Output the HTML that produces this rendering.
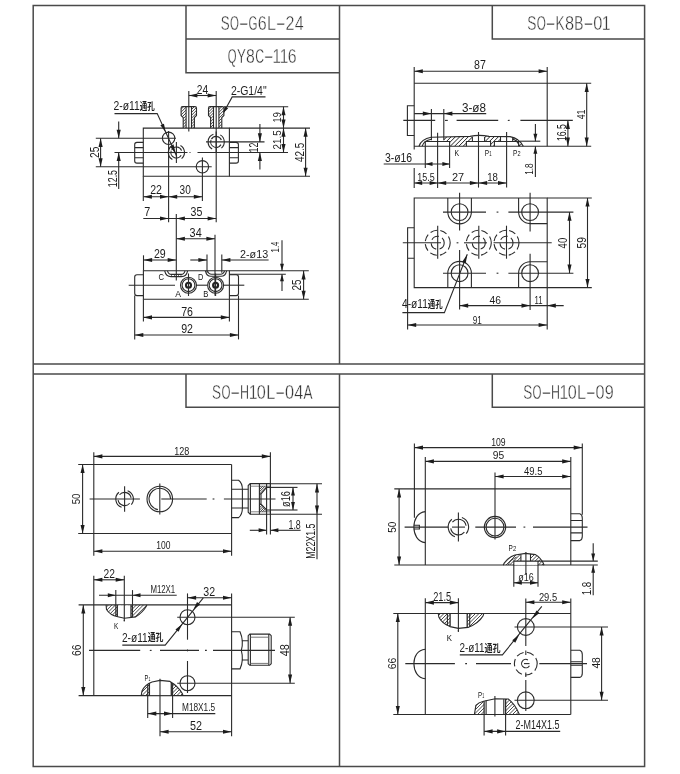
<!DOCTYPE html>
<html><head><meta charset="utf-8"><title>drawing</title>
<style>
html,body{margin:0;padding:0;background:#fff}
svg{display:block;will-change:transform;opacity:.999}
svg path,svg circle{fill:none;stroke:#2b2b2b;stroke-width:1.1}
svg path.a{fill:#1c1c1c;stroke:none}
svg text{font-family:"Liberation Sans","Noto Sans CJK SC",sans-serif;fill:#1c1c1c}
svg text.h{fill:#333;stroke:#fff;stroke-width:.4px}
svg text.s{fill:#111}
svg .c{fill:#1a1a1a;font-weight:bold}
</style></head><body>
<svg width="680" height="774" viewBox="0 0 680 774">
<path d="M33.2 5.4H644.6V766.5H33.2Z" style="stroke:#4a4a4a;stroke-width:1.5"/>
<path d="M33.2 364.1H644.6" style="stroke:#4a4a4a;stroke-width:1.5"/>
<path d="M33.2 374.1H644.6" style="stroke:#4a4a4a;stroke-width:1.5"/>
<path d="M339.5 5.4V364.1" style="stroke:#4a4a4a;stroke-width:1.5"/>
<path d="M339.5 374.1V766.5" style="stroke:#4a4a4a;stroke-width:1.5"/>
<path d="M186 5.4V72.8H339.5M186 39.1H339.5" style="stroke:#4a4a4a;stroke-width:1.5"/>
<path d="M492.3 5.4V38.9H644.6" style="stroke:#4a4a4a;stroke-width:1.5"/>
<path d="M186 374.1V407.2H339.5" style="stroke:#4a4a4a;stroke-width:1.5"/>
<path d="M492.3 374.1V407.2H644.6" style="stroke:#4a4a4a;stroke-width:1.5"/>
<text class="h" y="29.7" font-size="21" text-anchor="middle"><tspan x="225.32" textLength="8.93" lengthAdjust="spacingAndGlyphs">S</tspan><tspan x="234.55" textLength="8.93" lengthAdjust="spacingAndGlyphs">O</tspan><tspan x="243.78" textLength="10.64" lengthAdjust="spacingAndGlyphs">-</tspan><tspan x="253.02" textLength="8.93" lengthAdjust="spacingAndGlyphs">G</tspan><tspan x="262.25" textLength="8.93" lengthAdjust="spacingAndGlyphs">6</tspan><tspan x="271.48" textLength="8.93" lengthAdjust="spacingAndGlyphs">L</tspan><tspan x="280.72" textLength="10.64" lengthAdjust="spacingAndGlyphs">-</tspan><tspan x="289.95" textLength="8.93" lengthAdjust="spacingAndGlyphs">2</tspan><tspan x="299.18" textLength="8.93" lengthAdjust="spacingAndGlyphs">4</tspan></text>
<text class="h" y="63.3" font-size="21" text-anchor="middle"><tspan x="232.25" textLength="8.81" lengthAdjust="spacingAndGlyphs">Q</tspan><tspan x="241.36" textLength="8.81" lengthAdjust="spacingAndGlyphs">Y</tspan><tspan x="250.47" textLength="8.81" lengthAdjust="spacingAndGlyphs">8</tspan><tspan x="259.58" textLength="8.81" lengthAdjust="spacingAndGlyphs">C</tspan><tspan x="268.68" textLength="10.49" lengthAdjust="spacingAndGlyphs">-</tspan><tspan x="276.85" textLength="8.51" lengthAdjust="spacingAndGlyphs">1</tspan><tspan x="284.08" textLength="8.51" lengthAdjust="spacingAndGlyphs">1</tspan><tspan x="292.25" textLength="8.81" lengthAdjust="spacingAndGlyphs">6</tspan></text>
<text class="h" y="29.7" font-size="21" text-anchor="middle"><tspan x="531.81" textLength="9.11" lengthAdjust="spacingAndGlyphs">S</tspan><tspan x="541.22" textLength="9.11" lengthAdjust="spacingAndGlyphs">O</tspan><tspan x="550.64" textLength="10.85" lengthAdjust="spacingAndGlyphs">-</tspan><tspan x="560.06" textLength="9.11" lengthAdjust="spacingAndGlyphs">K</tspan><tspan x="569.47" textLength="9.11" lengthAdjust="spacingAndGlyphs">8</tspan><tspan x="578.89" textLength="9.11" lengthAdjust="spacingAndGlyphs">B</tspan><tspan x="588.3" textLength="10.85" lengthAdjust="spacingAndGlyphs">-</tspan><tspan x="597.72" textLength="9.11" lengthAdjust="spacingAndGlyphs">0</tspan><tspan x="606.16" textLength="8.8" lengthAdjust="spacingAndGlyphs">1</tspan></text>
<text class="h" y="398.9" font-size="21" text-anchor="middle"><tspan x="216.57" textLength="9.04" lengthAdjust="spacingAndGlyphs">S</tspan><tspan x="225.92" textLength="9.04" lengthAdjust="spacingAndGlyphs">O</tspan><tspan x="235.27" textLength="10.77" lengthAdjust="spacingAndGlyphs">-</tspan><tspan x="244.62" textLength="9.04" lengthAdjust="spacingAndGlyphs">H</tspan><tspan x="253" textLength="8.74" lengthAdjust="spacingAndGlyphs">1</tspan><tspan x="261.38" textLength="9.04" lengthAdjust="spacingAndGlyphs">0</tspan><tspan x="270.73" textLength="9.04" lengthAdjust="spacingAndGlyphs">L</tspan><tspan x="280.08" textLength="10.77" lengthAdjust="spacingAndGlyphs">-</tspan><tspan x="289.43" textLength="9.04" lengthAdjust="spacingAndGlyphs">0</tspan><tspan x="298.78" textLength="9.04" lengthAdjust="spacingAndGlyphs">4</tspan><tspan x="308.13" textLength="9.04" lengthAdjust="spacingAndGlyphs">A</tspan></text>
<text class="h" y="398.9" font-size="21" text-anchor="middle"><tspan x="527.65" textLength="8.99" lengthAdjust="spacingAndGlyphs">S</tspan><tspan x="536.94" textLength="8.99" lengthAdjust="spacingAndGlyphs">O</tspan><tspan x="546.23" textLength="10.71" lengthAdjust="spacingAndGlyphs">-</tspan><tspan x="555.52" textLength="8.99" lengthAdjust="spacingAndGlyphs">H</tspan><tspan x="563.85" textLength="8.69" lengthAdjust="spacingAndGlyphs">1</tspan><tspan x="572.19" textLength="8.99" lengthAdjust="spacingAndGlyphs">0</tspan><tspan x="581.48" textLength="8.99" lengthAdjust="spacingAndGlyphs">L</tspan><tspan x="590.77" textLength="10.71" lengthAdjust="spacingAndGlyphs">-</tspan><tspan x="600.06" textLength="8.99" lengthAdjust="spacingAndGlyphs">0</tspan><tspan x="609.35" textLength="8.99" lengthAdjust="spacingAndGlyphs">9</tspan></text>
<path d="M143.3 128.1H229.4V176.3H143.3Z"/>
<path d="M143.3 142.4H137Q134.7 142.4 134.7 144.6V160.9Q134.7 163.1 137 163.1H143.3M134.7 147.6H143.3M134.7 157.8H143.3"/>
<path d="M229.4 142.4H236Q238.4 142.4 238.4 144.6V160.9Q238.4 163.1 236 163.1H229.4M229.4 147.6H238.4M229.4 157.8H238.4"/>
<path d="M183.2 128.1V117.5L181.1 115.5V108.2Q181.1 106.6 182.6 106.6H195Q196.5 106.6 196.5 108.2V115.5L194.4 117.5V128.1"/>
<path d="M186.1 106.6V128.1"/>
<path d="M191.5 106.6V128.1"/>
<clipPath id="h1"><path d="M183.2 128.1V117.5L181.1 115.5V106.6H186.1V128.1Z"/></clipPath>
<path clip-path="url(#h1)" d="M159.3 128.1L180.8 106.6M162.2 128.1L183.7 106.6M165.1 128.1L186.6 106.6M168 128.1L189.5 106.6M170.9 128.1L192.4 106.6M173.8 128.1L195.3 106.6M176.7 128.1L198.2 106.6M179.6 128.1L201.1 106.6M182.5 128.1L204 106.6M185.4 128.1L206.9 106.6" style="stroke:#333;stroke-width:0.9"/>
<clipPath id="h2"><path d="M194.4 128.1V117.5L196.5 115.5V106.6H191.5V128.1Z"/></clipPath>
<path clip-path="url(#h2)" d="M170 128.1L191.5 106.6M172.9 128.1L194.4 106.6M175.8 128.1L197.3 106.6M178.7 128.1L200.2 106.6M181.6 128.1L203.1 106.6M184.5 128.1L206 106.6M187.4 128.1L208.9 106.6M190.3 128.1L211.8 106.6M193.2 128.1L214.7 106.6M196.1 128.1L217.6 106.6" style="stroke:#333;stroke-width:0.9"/>
<path d="M210.6 128.1V117.5L208.5 115.5V108.2Q208.5 106.6 210 106.6H222.4Q223.9 106.6 223.9 108.2V115.5L221.8 117.5V128.1"/>
<path d="M213.5 106.6V128.1"/>
<path d="M218.9 106.6V128.1"/>
<clipPath id="h3"><path d="M210.6 128.1V117.5L208.5 115.5V106.6H213.5V128.1Z"/></clipPath>
<path clip-path="url(#h3)" d="M186.7 128.1L208.2 106.6M189.6 128.1L211.1 106.6M192.5 128.1L214 106.6M195.4 128.1L216.9 106.6M198.3 128.1L219.8 106.6M201.2 128.1L222.7 106.6M204.1 128.1L225.6 106.6M207 128.1L228.5 106.6M209.9 128.1L231.4 106.6M212.8 128.1L234.3 106.6" style="stroke:#333;stroke-width:0.9"/>
<clipPath id="h4"><path d="M221.8 128.1V117.5L223.9 115.5V106.6H218.9V128.1Z"/></clipPath>
<path clip-path="url(#h4)" d="M197.4 128.1L218.9 106.6M200.3 128.1L221.8 106.6M203.2 128.1L224.7 106.6M206.1 128.1L227.6 106.6M209 128.1L230.5 106.6M211.9 128.1L233.4 106.6M214.8 128.1L236.3 106.6M217.7 128.1L239.2 106.6M220.6 128.1L242.1 106.6M223.5 128.1L245 106.6" style="stroke:#333;stroke-width:0.9"/>
<path d="M188.8 91V131.5"/>
<path d="M216.2 91V222.3"/>
<path d="M188.8 95.5H216.2"/>
<path class="a" d="M188.8 95.5L197.4 93.45L197.4 97.55Z"/>
<path class="a" d="M216.2 95.5L207.6 97.55L207.6 93.45Z"/>
<text class="t" x="196.8" y="93.7" font-size="12.14" textLength="11.4" lengthAdjust="spacingAndGlyphs">24</text>
<text class="t" x="230.9" y="95.2" font-size="12.29" textLength="35.7" lengthAdjust="spacingAndGlyphs">2-G1/4&quot;</text>
<path d="M265.5 96.9H232.2L223.6 112.6"/>
<path class="a" d="M223.4 113L224.73 106.35L228.17 108.18Z"/>
<circle cx="168.6" cy="138.3" r="6.2"/>
<circle cx="202.4" cy="166.8" r="6.2"/>
<path d="M95.8 138.3H176"/>
<path d="M95.8 166.8H211.7"/>
<path d="M114.5 152.5H187.5"/>
<path d="M189.5 152.5H190.5"/>
<path d="M197.5 152.5H288"/>
<path d="M180.45 145.49A8.1 8.1 0 0 1 181.61 158.7"/>
<path d="M172.35 159.51A8.1 8.1 0 0 1 173.63 144.89"/>
<path d="M171.64 149.75A5.5 5.5 0 0 1 181.57 150.62"/>
<path d="M181.16 155.25A5.5 5.5 0 0 1 171.23 150.62"/>
<path d="M176.4 142V163"/>
<path d="M220.25 134.89A8.1 8.1 0 0 1 221.41 148.1"/>
<path d="M212.15 148.91A8.1 8.1 0 0 1 213.43 134.29"/>
<path d="M211.44 139.15A5.5 5.5 0 0 1 221.37 140.02"/>
<path d="M220.96 144.65A5.5 5.5 0 0 1 211.03 140.02"/>
<path d="M216.2 131.4V152.4"/>
<path d="M206 141.9H264.5"/>
<path d="M171 152.5H181.5"/>
<text y="110" font-size="12.14"><tspan x="113.5" textLength="26.3" lengthAdjust="spacingAndGlyphs">2-ø11</tspan><tspan class="c" x="139.8" y="109.79" font-size="10.11" textLength="15" lengthAdjust="spacingAndGlyphs">通孔</tspan></text>
<path d="M114.5 113.6H157.2L176.8 156.5"/>
<path class="a" d="M165.7 132.3L160.4 125.37L163.95 123.76Z"/>
<path class="a" d="M175.6 153.8L170.3 146.87L173.85 145.26Z"/>
<path d="M100.6 138.3V166.8"/>
<path class="a" d="M100.6 138.3L102.65 146.9L98.55 146.9Z"/>
<path class="a" d="M100.6 166.8L98.55 158.2L102.65 158.2Z"/>
<text class="t" transform="translate(98.8 158) rotate(-90)" font-size="12.14" textLength="11.4" lengthAdjust="spacingAndGlyphs">25</text>
<path d="M118.7 121.5V138.3"/>
<path class="a" d="M118.7 138.3L116.65 129.7L120.75 129.7Z"/>
<path d="M118.7 152.5V189"/>
<path class="a" d="M118.7 152.5L120.75 161.1L116.65 161.1Z"/>
<text class="t" transform="translate(116.9 187.2) rotate(-90)" font-size="12.29" textLength="17.2" lengthAdjust="spacingAndGlyphs">12.5</text>
<path d="M224 106.7H288.2"/>
<path d="M229.4 128.1H310"/>
<path d="M229.4 176.3H310"/>
<path d="M283.5 106.7V152.5"/>
<path class="a" d="M283.5 106.7L285.55 115.3L281.45 115.3Z"/>
<path class="a" d="M283.5 128.1L281.45 119.5L285.55 119.5Z"/>
<path class="a" d="M283.5 128.1L285.55 136.7L281.45 136.7Z"/>
<path class="a" d="M283.5 152.5L281.45 143.9L285.55 143.9Z"/>
<text class="t" transform="translate(281 122.4) rotate(-90)" font-size="11.71" textLength="10.2" lengthAdjust="spacingAndGlyphs">19</text>
<text class="t" transform="translate(281 149.4) rotate(-90)" font-size="11.71" textLength="19.1" lengthAdjust="spacingAndGlyphs">21.5</text>
<path d="M305.6 128.1V176.3"/>
<path class="a" d="M305.6 128.1L307.65 136.7L303.55 136.7Z"/>
<path class="a" d="M305.6 176.3L303.55 167.7L307.65 167.7Z"/>
<text class="t" transform="translate(303.8 162) rotate(-90)" font-size="12.14" textLength="19.2" lengthAdjust="spacingAndGlyphs">42.5</text>
<path d="M259.9 124V141.9"/>
<path class="a" d="M259.9 141.9L257.85 133.3L261.95 133.3Z"/>
<path d="M259.9 152.5V169.4"/>
<path class="a" d="M259.9 152.5L261.95 161.1L257.85 161.1Z"/>
<text class="t" transform="translate(258.1 152.4) rotate(-90)" font-size="12" textLength="9.8" lengthAdjust="spacingAndGlyphs">12</text>
<path d="M143.3 176.3V201"/>
<path d="M168.6 131V222.3"/>
<path d="M202.4 157.5V201"/>
<path d="M143.3 196.8H202.4"/>
<path class="a" d="M143.3 196.8L151.9 194.75L151.9 198.85Z"/>
<path class="a" d="M168.6 196.8L160 198.85L160 194.75Z"/>
<path class="a" d="M168.6 196.8L177.2 194.75L177.2 198.85Z"/>
<path class="a" d="M202.4 196.8L193.8 198.85L193.8 194.75Z"/>
<text class="t" x="150.2" y="194.2" font-size="12.29" textLength="11.8" lengthAdjust="spacingAndGlyphs">22</text>
<text class="t" x="179.6" y="194.2" font-size="12.29" textLength="11.2" lengthAdjust="spacingAndGlyphs">30</text>
<path d="M143.3 218.5H216.2"/>
<path class="a" d="M168.6 218.5L160 220.55L160 216.45Z"/>
<path class="a" d="M176.3 218.5L184.9 216.45L184.9 220.55Z"/>
<path class="a" d="M216.2 218.5L207.6 220.55L207.6 216.45Z"/>
<text class="t" x="144.3" y="216.3" font-size="12.14" textLength="6" lengthAdjust="spacingAndGlyphs">7</text>
<text class="t" x="190.6" y="216.3" font-size="12.14" textLength="11.8" lengthAdjust="spacingAndGlyphs">35</text>
<path d="M176.3 214V280.4"/>
<path d="M215 234.7V295.8"/>
<path d="M176.3 238.8H215"/>
<path class="a" d="M176.3 238.8L184.9 236.75L184.9 240.85Z"/>
<path class="a" d="M215 238.8L206.4 240.85L206.4 236.75Z"/>
<text class="t" x="189.6" y="237" font-size="12" textLength="12.1" lengthAdjust="spacingAndGlyphs">34</text>
<path d="M143.4 270.8H229.4V299.3H143.4Z"/>
<path d="M143.4 274.7H137Q134.7 274.7 134.7 277V293.3Q134.7 295.6 137 295.6H143.4"/>
<path d="M229.4 274.7H236.2Q238.5 274.7 238.5 277V293.3Q238.5 295.6 236.2 295.6H229.4"/>
<path d="M128.7 285.2H175"/>
<path d="M196 285.2H207"/>
<path d="M224 285.2H244.3"/>
<path d="M164.7 270.8Q166 276.6 171 276.6H181.5Q186.5 276.6 187.6 270.8M167.5 270.8Q168.5 274.4 171.5 274.4H181Q184 274.4 185 270.8"/>
<path d="M171.5 274.4V276.6M174.5 274.4V276.6M178.5 274.4V276.6M181 274.4V276.6" style="stroke-width:0.7"/>
<path d="M205.4 270.8Q206.5 276.2 211 276.2H221Q225.5 276.2 226.6 270.8M207.5 270.8Q208.5 274.2 211.5 274.2H220.5Q223.5 274.2 224.5 270.8"/>
<circle cx="188.5" cy="285.2" r="8"/>
<circle cx="188.5" cy="285.2" r="6.4"/>
<circle cx="188.5" cy="285.2" r="2.5" style="stroke:#222;stroke-width:2.1"/>
<path d="M188.5 273.5V296"/>
<circle cx="215.6" cy="285.2" r="8"/>
<circle cx="215.6" cy="285.2" r="6.4"/>
<circle cx="215.6" cy="285.2" r="2.5" style="stroke:#222;stroke-width:2.1"/>
<path d="M215.6 273.5V296"/>
<text class="s" x="158.4" y="280.4" font-size="9.29" textLength="5.5" lengthAdjust="spacingAndGlyphs">C</text>
<text class="s" x="198.1" y="280.4" font-size="9.29" textLength="5.3" lengthAdjust="spacingAndGlyphs">D</text>
<text class="s" x="175.3" y="297.4" font-size="9.43" textLength="5.7" lengthAdjust="spacingAndGlyphs">A</text>
<text class="s" x="203.3" y="297.4" font-size="9.43" textLength="5.1" lengthAdjust="spacingAndGlyphs">B</text>
<path d="M143.5 255.3V270.8"/>
<path d="M143.5 260H176.3"/>
<path class="a" d="M143.5 260L152.1 257.95L152.1 262.05Z"/>
<path class="a" d="M176.3 260L167.7 262.05L167.7 257.95Z"/>
<text class="t" x="153.9" y="258" font-size="12.14" textLength="11.8" lengthAdjust="spacingAndGlyphs">29</text>
<path d="M207 254.6V272.8"/>
<path d="M221.8 254.6V272.8"/>
<path d="M190.3 260H207"/>
<path class="a" d="M207 260L198.4 262.05L198.4 257.95Z"/>
<path d="M221.8 260H268.6"/>
<path class="a" d="M221.8 260L230.4 257.95L230.4 262.05Z"/>
<text class="t" x="240.1" y="257.7" font-size="11.71" textLength="28" lengthAdjust="spacingAndGlyphs">2-ø13</text>
<path d="M143.4 299.3V321.6"/>
<path d="M229.4 299.3V321.6"/>
<path d="M143.4 317.4H229.4"/>
<path class="a" d="M143.4 317.4L152 315.35L152 319.45Z"/>
<path class="a" d="M229.4 317.4L220.8 319.45L220.8 315.35Z"/>
<text class="t" x="181.2" y="315.5" font-size="12.14" textLength="11.8" lengthAdjust="spacingAndGlyphs">76</text>
<path d="M134.7 295.6V339.6"/>
<path d="M238.5 295.6V339.4"/>
<path d="M134.7 335H238.5"/>
<path class="a" d="M134.7 335L143.3 332.95L143.3 337.05Z"/>
<path class="a" d="M238.5 335L229.9 337.05L229.9 332.95Z"/>
<text class="t" x="181.2" y="333.4" font-size="12.29" textLength="11.8" lengthAdjust="spacingAndGlyphs">92</text>
<path d="M229.4 270.8H308.8"/>
<path d="M229.4 299.3H308.8"/>
<path d="M229.4 274.3H285.8"/>
<path d="M303.6 270.8V299.3"/>
<path class="a" d="M303.6 270.8L305.65 279.4L301.55 279.4Z"/>
<path class="a" d="M303.6 299.3L301.55 290.7L305.65 290.7Z"/>
<text class="t" transform="translate(301 290.6) rotate(-90)" font-size="12.14" textLength="11" lengthAdjust="spacingAndGlyphs">25</text>
<path d="M282 240.3V270.8"/>
<path class="a" d="M282 270.8L280.05 263.8L283.95 263.8Z"/>
<path d="M282 274.3V291"/>
<path class="a" d="M282 274.3L283.95 281.3L280.05 281.3Z"/>
<text class="t" transform="translate(279.4 252.4) rotate(-90)" font-size="11.29" textLength="10.8" lengthAdjust="spacingAndGlyphs">1.4</text>
<path d="M414.2 67V149.5M547.2 67V146.2"/>
<path d="M414.2 83.3H591.2"/>
<path d="M414.2 146.2H591.2"/>
<path d="M414.2 105.8H407.4V135.5H414.2"/>
<path d="M414.2 71.3H547.2"/>
<path class="a" d="M414.2 71.3L422.8 69.25L422.8 73.35Z"/>
<path class="a" d="M547.2 71.3L538.6 73.35L538.6 69.25Z"/>
<text class="t" x="474.1" y="69.4" font-size="12" textLength="11.8" lengthAdjust="spacingAndGlyphs">87</text>
<path d="M403.3 120.4H435.2"/>
<path d="M445 120.4H447.8"/>
<path d="M456.6 120.4H498.2"/>
<path d="M507.8 120.4H509.6"/>
<path d="M520.4 120.4H572.8"/>
<path d="M414.2 113.6H486.2"/>
<path class="a" d="M431.4 113.6L422.8 115.65L422.8 111.55Z"/>
<path class="a" d="M443.8 113.6L452.4 111.55L452.4 115.65Z"/>
<path d="M431.4 109V140.2"/>
<path d="M443.8 109V140.2"/>
<text class="t" x="462" y="111.7" font-size="12" textLength="24" lengthAdjust="spacingAndGlyphs">3-ø8</text>
<path d="M419 146.2Q421.5 139 431 137.3L470 136.4Q479 134.3 489 136.4L510 136.6Q519.5 138.5 523.3 146.2"/>
<path d="M422.2 146.2Q423.5 140.5 431.4 139.2M512.6 139Q517.5 140.5 519.6 146.2"/>
<path d="M425.3 146.2V141.5H449.6V146.2"/>
<path d="M466.4 146.2V141.5H490.6V146.2"/>
<path d="M494.4 146.2V141.5H518.6V146.2"/>
<clipPath id="h5"><path d="M443.8 137.1L470 136.4L472.4 136V141.5H466.4V146.2H449.6V141.5H443.8Z M484.6 135.4L489 136.4L500.4 136.5V141.5H494.4V146.2H490.6V141.5H484.6Z M512.6 137.2L518.5 139.5L523.3 146.2H518.6V141.5H512.6Z"/></clipPath>
<path clip-path="url(#h5)" d="M428.5 146.5L440 135M432.8 146.5L444.3 135M437.1 146.5L448.6 135M441.4 146.5L452.9 135M445.7 146.5L457.2 135M450 146.5L461.5 135M454.3 146.5L465.8 135M458.6 146.5L470.1 135M462.9 146.5L474.4 135M467.2 146.5L478.7 135M471.5 146.5L483 135M475.8 146.5L487.3 135M480.1 146.5L491.6 135M484.4 146.5L495.9 135M488.7 146.5L500.2 135M493 146.5L504.5 135M497.3 146.5L508.8 135M501.6 146.5L513.1 135M505.9 146.5L517.4 135M510.2 146.5L521.7 135M514.5 146.5L526 135M518.8 146.5L530.3 135M523.1 146.5L534.6 135" style="stroke:#222;stroke-width:1"/>
<path d="M472.4 137V141.5"/>
<path d="M484.6 137V141.5"/>
<path d="M500.5 137V141.5"/>
<path d="M512.7 137V141.5"/>
<path d="M437.6 132.7V188"/>
<path d="M478.5 132V187.6"/>
<path d="M506.6 132V187.6"/>
<path d="M383.7 164H449.6"/>
<path class="a" d="M425.3 164L432.5 161.95L432.5 166.05Z"/>
<path class="a" d="M449.6 164L442.4 166.05L442.4 161.95Z"/>
<path d="M425.3 146.2V168"/>
<path d="M449.6 146.2V168"/>
<text class="t" x="384.9" y="161.9" font-size="12" textLength="27.3" lengthAdjust="spacingAndGlyphs">3-ø16</text>
<path d="M414.2 168V188"/>
<path d="M414.2 183H506.6"/>
<path class="a" d="M414.2 183L422.2 180.95L422.2 185.05Z"/>
<path class="a" d="M437.6 183L429.6 185.05L429.6 180.95Z"/>
<path class="a" d="M437.6 183L446.2 180.95L446.2 185.05Z"/>
<path class="a" d="M478.5 183L469.9 185.05L469.9 180.95Z"/>
<path class="a" d="M478.5 183L487.1 180.95L487.1 185.05Z"/>
<path class="a" d="M506.6 183L498 185.05L498 180.95Z"/>
<text class="t" x="417.3" y="181" font-size="11.71" textLength="17.4" lengthAdjust="spacingAndGlyphs">15.5</text>
<text class="t" x="451.9" y="181" font-size="11.71" textLength="12.2" lengthAdjust="spacingAndGlyphs">27</text>
<text class="t" x="487.2" y="181" font-size="11.71" textLength="10.7" lengthAdjust="spacingAndGlyphs">18</text>
<text class="s" x="454.5" y="155.8" font-size="8.86" textLength="4.6" lengthAdjust="spacingAndGlyphs">K</text>
<text class="s" y="155.8" font-size="8.86"><tspan x="484.7" textLength="4.3" lengthAdjust="spacingAndGlyphs">P</tspan><tspan x="489.2" font-size="6.29" textLength="2.4" lengthAdjust="spacingAndGlyphs">1</tspan></text>
<text class="s" y="155.8" font-size="8.86"><tspan x="512.9" textLength="4.3" lengthAdjust="spacingAndGlyphs">P</tspan><tspan x="517.4" font-size="6.29" textLength="3.1" lengthAdjust="spacingAndGlyphs">2</tspan></text>
<path d="M520 141.2H540.3"/>
<path d="M535.4 124V141.2"/>
<path class="a" d="M535.4 141.2L533.45 133.7L537.35 133.7Z"/>
<path d="M535.4 146.2V177"/>
<path class="a" d="M535.4 146.2L537.35 153.7L533.45 153.7Z"/>
<text class="t" transform="translate(532.8 174.8) rotate(-90)" font-size="10.86" textLength="11.4" lengthAdjust="spacingAndGlyphs">1.8</text>
<path d="M586.7 83.3V146.2"/>
<path class="a" d="M586.7 83.3L588.75 91.9L584.65 91.9Z"/>
<path class="a" d="M586.7 146.2L584.65 137.6L588.75 137.6Z"/>
<text class="t" transform="translate(584.8 119.2) rotate(-90)" font-size="10.57" textLength="9.6" lengthAdjust="spacingAndGlyphs">41</text>
<path d="M567.9 120.4V146.2"/>
<path class="a" d="M567.9 120.4L569.95 129L565.85 129Z"/>
<path class="a" d="M567.9 146.2L565.85 137.6L569.95 137.6Z"/>
<text class="t" transform="translate(565.6 141.1) rotate(-90)" font-size="12" textLength="16.9" lengthAdjust="spacingAndGlyphs">16.5</text>
<path d="M414.2 198H547.2V287.6H414.2Z"/>
<path d="M547.2 198H591.8"/>
<path d="M547.2 287.6H591.8"/>
<path d="M414.2 227.7H407.6V258.3H414.2"/>
<circle cx="459.6" cy="212.1" r="8.4"/>
<circle cx="459.6" cy="273.2" r="8.4"/>
<circle cx="530.1" cy="212.1" r="8.4"/>
<circle cx="530.1" cy="273.2" r="8.4"/>
<path d="M447.8 198V212.1A11.8 11.8 0 0 0 471.4 212.1V198"/>
<path d="M447.8 287.6V273.2A11.8 11.8 0 0 1 471.4 273.2V287.6"/>
<path d="M518.6 198V212.1A11.5 11.5 0 0 0 530.1 223.6H547.2"/>
<path d="M518.6 287.6V273.2A11.5 11.5 0 0 1 530.1 261.7H547.2"/>
<path d="M459.6 192.8V230.6"/>
<path d="M459.6 250V309.5"/>
<path d="M530.1 192.8V231.5"/>
<path d="M530.1 253.8V310"/>
<path d="M443 212.1H486"/>
<path d="M496.6 212.1H498.4"/>
<path d="M508.4 212.1H573.4"/>
<path d="M443 273.2H486"/>
<path d="M496.6 273.2H498.4"/>
<path d="M508.4 273.2H573.4"/>
<path d="M402.8 242.8H441"/>
<path d="M456.6 242.8H458.4"/>
<path d="M464 242.8H487"/>
<path d="M493.5 242.8H551.7"/>
<circle cx="437.7" cy="242.8" r="12.5" style="stroke-dasharray:7 3.2"/>
<circle cx="437.7" cy="242.8" r="6.5" style="stroke-dasharray:8 3.5"/>
<path d="M437.7 225.7V258.7"/>
<circle cx="478.8" cy="242.8" r="12.5" style="stroke-dasharray:7 3.2"/>
<circle cx="478.8" cy="242.8" r="6.5" style="stroke-dasharray:8 3.5"/>
<path d="M478.8 225.7V258.7"/>
<circle cx="506.5" cy="242.8" r="12.5" style="stroke-dasharray:7 3.2"/>
<circle cx="506.5" cy="242.8" r="6.5" style="stroke-dasharray:8 3.5"/>
<path d="M506.5 225.7V258.7"/>
<text y="308.2" font-size="12.29"><tspan x="402" textLength="25.8" lengthAdjust="spacingAndGlyphs">4-ø11</tspan><tspan class="c" x="427.8" y="307.98" font-size="10.22" textLength="14.8" lengthAdjust="spacingAndGlyphs">通孔</tspan></text>
<path d="M402.4 312.6H444.4L467.3 254.2"/>
<path class="a" d="M467.2 254.4L465.73 263.49L462.1 262.07Z"/>
<path d="M459.6 305.6H563.7"/>
<path class="a" d="M459.6 305.6L468.2 303.55L468.2 307.65Z"/>
<path class="a" d="M530.1 305.6L521.5 307.65L521.5 303.55Z"/>
<path class="a" d="M547.2 305.6L555.8 303.55L555.8 307.65Z"/>
<text class="t" x="489.6" y="303.5" font-size="11.57" textLength="11.5" lengthAdjust="spacingAndGlyphs">46</text>
<text class="t" x="534.6" y="303.5" font-size="11.57" textLength="8.1" lengthAdjust="spacingAndGlyphs">11</text>
<path d="M407.6 258.3V329.4"/>
<path d="M547.2 287.6V329.4"/>
<path d="M407.6 325H547.2"/>
<path class="a" d="M407.6 325L416.2 322.95L416.2 327.05Z"/>
<path class="a" d="M547.2 325L538.6 327.05L538.6 322.95Z"/>
<text class="t" x="472.7" y="323.8" font-size="11.57" textLength="9.1" lengthAdjust="spacingAndGlyphs">91</text>
<path d="M569.5 212.1V273.2"/>
<path class="a" d="M569.5 212.1L571.55 220.7L567.45 220.7Z"/>
<path class="a" d="M569.5 273.2L567.45 264.6L571.55 264.6Z"/>
<text class="t" transform="translate(567.3 248.4) rotate(-90)" font-size="12.29" textLength="10.6" lengthAdjust="spacingAndGlyphs">40</text>
<path d="M587.5 198V287.6"/>
<path class="a" d="M587.5 198L589.55 206.6L585.45 206.6Z"/>
<path class="a" d="M587.5 287.6L585.45 279L589.55 279Z"/>
<text class="t" transform="translate(585.6 248.4) rotate(-90)" font-size="12" textLength="11.4" lengthAdjust="spacingAndGlyphs">59</text>
<path d="M93.8 452.2V555.8M231.6 464.5V555.8"/>
<path d="M78.2 464.5H231.6"/>
<path d="M78.2 533.5H231.6"/>
<path d="M93.8 456.4H270.4"/>
<path class="a" d="M93.8 456.4L102.4 454.35L102.4 458.45Z"/>
<path class="a" d="M270.4 456.4L261.8 458.45L261.8 454.35Z"/>
<text class="t" x="174.3" y="454.6" font-size="11.14" textLength="15.1" lengthAdjust="spacingAndGlyphs">128</text>
<path d="M82.6 464.5V533.5"/>
<path class="a" d="M82.6 464.5L84.65 473.1L80.55 473.1Z"/>
<path class="a" d="M82.6 533.5L80.55 524.9L84.65 524.9Z"/>
<text class="t" transform="translate(80.1 504.3) rotate(-90)" font-size="11.57" textLength="10.8" lengthAdjust="spacingAndGlyphs">50</text>
<path d="M93.8 551.3H231.6"/>
<path class="a" d="M93.8 551.3L102.4 549.25L102.4 553.35Z"/>
<path class="a" d="M231.6 551.3L223 553.35L223 549.25Z"/>
<text class="t" x="156.2" y="549.4" font-size="11.71" textLength="14.2" lengthAdjust="spacingAndGlyphs">100</text>
<path d="M89.6 499H139.9"/>
<path d="M173 499H206.7"/>
<path d="M212.6 499H214.4"/>
<path d="M223.9 499H275.5"/>
<path d="M127.61 490.73A8.8 8.8 0 0 1 131.34 504.66"/>
<path d="M121.59 507.27A8.8 8.8 0 0 1 118.94 492.26"/>
<path d="M119.54 494.76A6.6 6.6 0 0 1 131.1 497.85"/>
<path d="M129.66 503.24A6.6 6.6 0 0 1 118.1 500.15"/>
<path d="M124.6 486.2V511.8"/>
<circle cx="159.8" cy="499" r="12.8"/>
<path d="M157.92 509.64A10.8 10.8 0 1 1 170.6 499"/>
<path d="M159.8 483.6V514.4"/>
<path d="M161.3 499H173"/>
<path d="M231.6 480.3H238.6Q242.4 483.2 242.4 489.3V508Q242.4 514.6 238.6 517.6H231.6M231.6 489.3H248.2M231.6 508H248.2"/>
<path d="M250.2 483.6H270.4V514.2H250.2L248.2 512.2V485.6Z"/>
<path d="M250.4 483.6V514.2"/>
<path d="M250.4 486.2H270.4" style="stroke:#666;stroke-width:0.8"/>
<path d="M250.4 511.8H270.4" style="stroke:#666;stroke-width:0.8"/>
<path d="M259.4 483.6V514.2"/>
<path d="M266.6 483.6V534.6"/>
<path d="M270.4 452.2V534.6"/>
<path d="M259.4 494H261L266.6 487.4H270.4M259.4 504H261L266.6 510H270.4M261 494V504"/>
<clipPath id="h6"><path d="M259.4 486.2H266.6V487.4L261 494H259.4Z M259.4 511.8H266.6V510L261 504H259.4Z"/></clipPath>
<path clip-path="url(#h6)" d="M227 515L259 483M229.3 515L261.3 483M231.6 515L263.6 483M233.9 515L265.9 483M236.2 515L268.2 483M238.5 515L270.5 483M240.8 515L272.8 483M243.1 515L275.1 483M245.4 515L277.4 483M247.7 515L279.7 483M250 515L282 483M252.3 515L284.3 483M254.6 515L286.6 483M256.9 515L288.9 483M259.2 515L291.2 483M261.5 515L293.5 483M263.8 515L295.8 483M266.1 515L298.1 483" style="stroke:#222;stroke-width:0.9"/>
<path d="M270.4 487.4H297.5"/>
<path d="M270.4 510H297.5"/>
<path d="M270.4 483.8H322"/>
<path d="M270.4 514.2H322"/>
<path d="M293 487.4V510"/>
<path class="a" d="M293 487.4L294.95 495.4L291.05 495.4Z"/>
<path class="a" d="M293 510L291.05 502L294.95 502Z"/>
<text class="t" transform="translate(290.4 506.9) rotate(-90)" font-size="12.29" textLength="15.8" lengthAdjust="spacingAndGlyphs">ø16</text>
<path d="M317 483.8V559.3"/>
<path class="a" d="M317 483.8L319.05 492.4L314.95 492.4Z"/>
<path class="a" d="M317 514.2L314.95 505.6L319.05 505.6Z"/>
<text class="t" transform="translate(315.2 558.7) rotate(-90)" font-size="12.86" textLength="35.1" lengthAdjust="spacingAndGlyphs">M22X1.5</text>
<path d="M249.8 530.3H266.6"/>
<path class="a" d="M266.6 530.3L258.6 532.35L258.6 528.25Z"/>
<path d="M270.4 530.3H300.6"/>
<path class="a" d="M270.4 530.3L278.4 528.25L278.4 532.35Z"/>
<text class="t" x="288.5" y="528.7" font-size="11.86" textLength="12.3" lengthAdjust="spacingAndGlyphs">1.8</text>
<path d="M93.8 575.8V695.6M231.6 593.4V736.2"/>
<path d="M78.6 604.9H231.6"/>
<path d="M78.6 695.6H231.6"/>
<path d="M124.3 575.8V621.2"/>
<path d="M93.8 579.8H124.3"/>
<path class="a" d="M93.8 579.8L102.4 577.75L102.4 581.85Z"/>
<path class="a" d="M124.3 579.8L115.7 581.85L115.7 577.75Z"/>
<text class="t" x="103.6" y="578.2" font-size="12.14" textLength="11.4" lengthAdjust="spacingAndGlyphs">22</text>
<path d="M99 595.2H176.7"/>
<path class="a" d="M115.8 595.2L107.8 597.25L107.8 593.15Z"/>
<path class="a" d="M132.5 595.2L140.5 593.15L140.5 597.25Z"/>
<path d="M115.8 590.1V604.9"/>
<path d="M132.5 590.1V604.9"/>
<text class="t" x="150.4" y="593.2" font-size="11.71" textLength="24.8" lengthAdjust="spacingAndGlyphs">M12X1</text>
<clipPath id="h7"><path d="M106.1 604.9L106.5 609.5Q110 615.2 117.8 616.8L124.4 618.2L135.7 616.9Q142.5 612.5 146.2 606.5L146.9 604.9Z"/></clipPath>
<path clip-path="url(#h7)" d="M90.9 619L105 604.9M94.4 619L108.5 604.9M97.9 619L112 604.9M101.4 619L115.5 604.9M104.9 619L119 604.9M108.4 619L122.5 604.9M111.9 619L126 604.9M115.4 619L129.5 604.9M118.9 619L133 604.9M122.4 619L136.5 604.9M125.9 619L140 604.9M129.4 619L143.5 604.9M132.9 619L147 604.9M136.4 619L150.5 604.9M139.9 619L154 604.9M143.4 619L157.5 604.9M146.9 619L161 604.9" style="stroke:#2b2b2b;stroke-width:0.85"/>
<rect x="117.3" y="605.4" width="13.7" height="14.6" fill="#fff"/>
<path d="M106.1 604.9L106.5 609.5Q110 615.2 117.8 616.8L124.4 618.2L135.7 616.9Q142.5 612.5 146.2 606.5L146.9 604.9"/>
<path d="M117.3 604.9V616.7" style="stroke-width:1.3"/>
<path d="M131 604.9V617.4" style="stroke-width:1.3"/>
<path d="M115.8 604.9V616"/>
<path d="M132.5 604.9V617"/>
<path d="M124.3 604.9V621.2"/>
<text class="s" x="114" y="629.3" font-size="8.71" textLength="4.3" lengthAdjust="spacingAndGlyphs">K</text>
<path d="M83.3 604.9V695.6"/>
<path class="a" d="M83.3 604.9L85.35 613.5L81.25 613.5Z"/>
<path class="a" d="M83.3 695.6L81.25 687L85.35 687Z"/>
<text class="t" transform="translate(81.3 655.9) rotate(-90)" font-size="12.14" textLength="11.3" lengthAdjust="spacingAndGlyphs">66</text>
<path d="M89 650.4H140.2"/>
<path d="M149.8 650.4H151.6"/>
<path d="M160 650.4H199"/>
<path d="M205 650.4H206.8"/>
<path d="M213 650.4H275"/>
<text y="641.5" font-size="12.43"><tspan x="121.9" textLength="25.8" lengthAdjust="spacingAndGlyphs">2-ø11</tspan><tspan class="c" x="147.7" y="641.28" font-size="10.33" textLength="15.7" lengthAdjust="spacingAndGlyphs">通孔</tspan></text>
<path d="M122.3 645.1H165.2L203.3 597.8"/>
<path class="a" d="M182.3 624L178.49 631.85L175.45 629.4Z"/>
<path class="a" d="M193.2 609.9L197.01 602.05L200.05 604.5Z"/>
<circle cx="187.5" cy="617.2" r="7.5"/>
<circle cx="187.5" cy="683.2" r="7.5"/>
<path d="M177.2 617.2H294.8"/>
<path d="M177.2 683.2H294.8"/>
<path d="M187.5 593.4V639.7"/>
<path d="M187.5 649.5V651.3"/>
<path d="M187.5 661V693"/>
<path d="M187.5 597.8H231.6"/>
<path class="a" d="M187.5 597.8L196.1 595.75L196.1 599.85Z"/>
<path class="a" d="M231.6 597.8L223 599.85L223 595.75Z"/>
<text class="t" x="203.3" y="596" font-size="12" textLength="11.8" lengthAdjust="spacingAndGlyphs">32</text>
<path d="M290.1 617.2V683.2"/>
<path class="a" d="M290.1 617.2L292.15 625.8L288.05 625.8Z"/>
<path class="a" d="M290.1 683.2L288.05 674.6L292.15 674.6Z"/>
<text class="t" transform="translate(288.6 656.3) rotate(-90)" font-size="12.29" textLength="12.1" lengthAdjust="spacingAndGlyphs">48</text>
<path d="M231.6 631.7H240Q244 641 241.3 650.4Q244 660 240 668.9H231.6"/>
<path d="M241.8 640.8H248.2M241.8 660H248.2"/>
<path d="M249.8 634.1H269.6L271.2 635.7V663.7L269.6 665.3H249.8L248.2 663.7V635.7Z"/>
<path d="M250.4 634.1V665.3"/>
<path d="M268.8 634.1V665.3"/>
<path d="M250.4 637.2H268.8" style="stroke:#666;stroke-width:0.9"/>
<path d="M250.4 663.4H268.8" style="stroke:#666;stroke-width:0.9"/>
<clipPath id="h8"><path d="M141.2 695.6L142 691Q145 684.5 152 682L160 680.4L170 681.4Q178 686 182.3 693.5L183 695.6Z"/></clipPath>
<path clip-path="url(#h8)" d="M124.4 695.6L140 680M127.9 695.6L143.5 680M131.4 695.6L147 680M134.9 695.6L150.5 680M138.4 695.6L154 680M141.9 695.6L157.5 680M145.4 695.6L161 680M148.9 695.6L164.5 680M152.4 695.6L168 680M155.9 695.6L171.5 680M159.4 695.6L175 680M162.9 695.6L178.5 680M166.4 695.6L182 680M169.9 695.6L185.5 680M173.4 695.6L189 680M176.9 695.6L192.5 680M180.4 695.6L196 680M183.9 695.6L199.5 680" style="stroke:#2b2b2b;stroke-width:0.85"/>
<rect x="149.4" y="678" width="21.9" height="17.1" fill="#fff"/>
<path d="M141.2 695.6L142 691Q145 684.5 152 682L160 680.4L170 681.4Q178 686 182.3 693.5L183 695.6"/>
<path d="M149.4 683V695.6" style="stroke-width:1.3"/>
<path d="M171.3 682V695.6" style="stroke-width:1.3"/>
<path d="M147.7 684V695.6"/>
<path d="M172.6 683V695.6"/>
<text class="s" y="680.6" font-size="8.71"><tspan x="144.6" textLength="3.8" lengthAdjust="spacingAndGlyphs">P</tspan><tspan x="148.6" font-size="6" textLength="1.9" lengthAdjust="spacingAndGlyphs">1</tspan></text>
<path d="M160 678.8V736.2"/>
<path d="M147.7 695.6V718"/>
<path d="M172.6 695.6V718"/>
<path d="M147.7 713.6H215.3"/>
<path class="a" d="M147.7 713.6L156.3 711.55L156.3 715.65Z"/>
<path class="a" d="M172.6 713.6L164 715.65L164 711.55Z"/>
<text class="t" x="182" y="711.4" font-size="11.14" textLength="33.1" lengthAdjust="spacingAndGlyphs">M18X1.5</text>
<path d="M160 731.8H231.6"/>
<path class="a" d="M160 731.8L168.6 729.75L168.6 733.85Z"/>
<path class="a" d="M231.6 731.8L223 733.85L223 729.75Z"/>
<text class="t" x="189.9" y="729.8" font-size="12" textLength="12" lengthAdjust="spacingAndGlyphs">52</text>
<path d="M425.3 456.9V565M570.8 456.9V565"/>
<path d="M394.3 488.9H570.8"/>
<path d="M394.3 565H597.8"/>
<path d="M414.4 443.4V517.8"/>
<path d="M582.3 443.4V514.7"/>
<path d="M414.4 447.6H582.3"/>
<path class="a" d="M414.4 447.6L423 445.55L423 449.65Z"/>
<path class="a" d="M582.3 447.6L573.7 449.65L573.7 445.55Z"/>
<text class="t" x="491.2" y="445.6" font-size="10.57" textLength="14.4" lengthAdjust="spacingAndGlyphs">109</text>
<path d="M425.3 461.4H570.8"/>
<path class="a" d="M425.3 461.4L433.9 459.35L433.9 463.45Z"/>
<path class="a" d="M570.8 461.4L562.2 463.45L562.2 459.35Z"/>
<text class="t" x="492.8" y="458.9" font-size="11.57" textLength="11.4" lengthAdjust="spacingAndGlyphs">95</text>
<path d="M495 472.4V539.5"/>
<path d="M495 476.5H570.8"/>
<path class="a" d="M495 476.5L503.6 474.45L503.6 478.55Z"/>
<path class="a" d="M570.8 476.5L562.2 478.55L562.2 474.45Z"/>
<text class="t" x="524" y="474.5" font-size="11.29" textLength="18.4" lengthAdjust="spacingAndGlyphs">49.5</text>
<path d="M399.1 488.9V565"/>
<path class="a" d="M399.1 488.9L401.15 497.5L397.05 497.5Z"/>
<path class="a" d="M399.1 565L397.05 556.4L401.15 556.4Z"/>
<text class="t" transform="translate(396.4 532.8) rotate(-90)" font-size="11.71" textLength="11.2" lengthAdjust="spacingAndGlyphs">50</text>
<path d="M425.3 511.6C417.5 512.5 413.9 519.5 413.9 527.1C413.9 534.7 417.5 541.7 425.3 542.6"/>
<path d="M413.7 525.3H419.4V529H413.7"/>
<path d="M404.6 527.1H448"/>
<path d="M475.3 527.1H516"/>
<path d="M523.5 527.1H525.3"/>
<path d="M533 527.1H587.5"/>
<path d="M461.89 517.52A10.2 10.2 0 0 1 466.21 533.66"/>
<path d="M454.91 536.68A10.2 10.2 0 0 1 451.84 519.29"/>
<path d="M452.42 522.09A7.8 7.8 0 0 1 466.08 525.75"/>
<path d="M464.38 532.11A7.8 7.8 0 0 1 450.72 528.45"/>
<path d="M458.4 512.6V541.6"/>
<path d="M452 527.1H465"/>
<circle cx="495" cy="527.1" r="10.7"/>
<circle cx="495" cy="527.1" r="8.9"/>
<path d="M570.8 513.7H579.8Q582.3 514.5 582.3 518V536.3Q582.3 539.8 579.8 540.6H570.8M570.8 520.5H582.3M570.8 532.9H582.3"/>
<clipPath id="h9"><path d="M503.2 565.2L504.2 563Q508 557.5 515 555L525.6 553.4L535.5 554.6Q541 558 543.3 563.2L544 565.2Z"/></clipPath>
<path clip-path="url(#h9)" d="M487.8 565.2L501 552M491.4 565.2L504.6 552M495 565.2L508.2 552M498.6 565.2L511.8 552M502.2 565.2L515.4 552M505.8 565.2L519 552M509.4 565.2L522.6 552M513 565.2L526.2 552M516.6 565.2L529.8 552M520.2 565.2L533.4 552M523.8 565.2L537 552M527.4 565.2L540.6 552M531 565.2L544.2 552M534.6 565.2L547.8 552M538.2 565.2L551.4 552M541.8 565.2L555 552M545.4 565.2L558.6 552" style="stroke:#2b2b2b;stroke-width:0.85"/>
<rect x="513.8" y="561.1" width="24.2" height="3.8" fill="#fff"/><rect x="520.9" y="552" width="9.6" height="9.1" fill="#fff"/>
<path d="M503.2 565.2L504.2 563Q508 557.5 515 555L525.6 553.4L535.5 554.6Q541 558 543.3 563.2L544 565.2"/>
<path d="M508 565.2Q510 560 516.5 557.2" style="stroke-width:0.9"/>
<path d="M513.8 565.2V561.1H597.8"/>
<path d="M538 561.1V565.2"/>
<path d="M520.9 554.2V561.1"/>
<path d="M530.5 553.9V561.1"/>
<path d="M525.9 552V574.7"/>
<text class="s" y="551" font-size="9"><tspan x="508.6" textLength="4.3" lengthAdjust="spacingAndGlyphs">P</tspan><tspan x="513.1" font-size="6.29" textLength="3.3" lengthAdjust="spacingAndGlyphs">2</tspan></text>
<path d="M513.8 565V586.7"/>
<path d="M538 565V586.7"/>
<path d="M513.8 582.8H538"/>
<path class="a" d="M513.8 582.8L521.8 580.75L521.8 584.85Z"/>
<path class="a" d="M538 582.8L530 584.85L530 580.75Z"/>
<text class="t" x="518.3" y="580.6" font-size="11.29" textLength="15.5" lengthAdjust="spacingAndGlyphs">ø16</text>
<path d="M593.2 543.3V561.1"/>
<path class="a" d="M593.2 561.1L591.25 553.6L595.15 553.6Z"/>
<path d="M593.2 565.2V595.3"/>
<path class="a" d="M593.2 565.2L595.15 572.7L591.25 572.7Z"/>
<text class="t" transform="translate(591 595.3) rotate(-90)" font-size="12.29" textLength="13.6" lengthAdjust="spacingAndGlyphs">1.8</text>
<path d="M425.3 598.2V714.5M570.8 598.4V714.5"/>
<path d="M393.3 613.5H570.8"/>
<path d="M393.3 714.5H570.8"/>
<path d="M458.4 598.2V631.7"/>
<path d="M425.3 602.6H458.4"/>
<path class="a" d="M425.3 602.6L433.9 600.55L433.9 604.65Z"/>
<path class="a" d="M458.4 602.6L449.8 604.65L449.8 600.55Z"/>
<text class="t" x="433.2" y="601.1" font-size="12" textLength="17.9" lengthAdjust="spacingAndGlyphs">21.5</text>
<clipPath id="h10"><path d="M438.3 613.5L438.8 617Q441.5 623 450 626.6L458.4 628.4L468 627.4Q478.5 623.5 483 616L483.8 613.5Z"/></clipPath>
<path clip-path="url(#h10)" d="M421.5 629L437 613.5M425 629L440.5 613.5M428.5 629L444 613.5M432 629L447.5 613.5M435.5 629L451 613.5M439 629L454.5 613.5M442.5 629L458 613.5M446 629L461.5 613.5M449.5 629L465 613.5M453 629L468.5 613.5M456.5 629L472 613.5M460 629L475.5 613.5M463.5 629L479 613.5M467 629L482.5 613.5M470.5 629L486 613.5M474 629L489.5 613.5M477.5 629L493 613.5M481 629L496.5 613.5M484.5 629L500 613.5" style="stroke:#2b2b2b;stroke-width:0.85"/>
<rect x="450.1" y="614" width="17.1" height="16" fill="#fff"/>
<path d="M438.3 613.5L438.8 617Q441.5 623 450 626.6L458.4 628.4L468 627.4Q478.5 623.5 483 616L483.8 613.5"/>
<path d="M450.1 613.5V626.6" style="stroke-width:1.3"/>
<path d="M467.2 613.5V627.6" style="stroke-width:1.3"/>
<path d="M447.4 613.5V625.6"/>
<path d="M469.7 613.5V626.8"/>
<path d="M458.4 613.5V631.7"/>
<text class="s" x="446.8" y="640.5" font-size="9" textLength="5.2" lengthAdjust="spacingAndGlyphs">K</text>
<path d="M397.8 613.5V714.5"/>
<path class="a" d="M397.8 613.5L399.85 622.1L395.75 622.1Z"/>
<path class="a" d="M397.8 714.5L395.75 705.9L399.85 705.9Z"/>
<text class="t" transform="translate(395.7 669.3) rotate(-90)" font-size="11.71" textLength="11.6" lengthAdjust="spacingAndGlyphs">66</text>
<path d="M425.3 649.2C417.5 650 413.9 656.5 413.9 663.6C413.9 671 417.5 678 425.3 678.8"/>
<path d="M405.3 663.6H454.9"/>
<path d="M465.2 663.6H467"/>
<path d="M476 663.6H511"/>
<path d="M539.3 663.6H587"/>
<text y="651.9" font-size="12.43"><tspan x="459.4" textLength="25.1" lengthAdjust="spacingAndGlyphs">2-ø11</tspan><tspan class="c" x="484.5" y="651.68" font-size="10.33" textLength="16.1" lengthAdjust="spacingAndGlyphs">通孔</tspan></text>
<path d="M459.8 654.9H502.4L541.8 606.3"/>
<path class="a" d="M519.3 634.6L515.28 642.67L512.25 640.21Z"/>
<path class="a" d="M532.4 618.6L536.42 610.53L539.45 612.99Z"/>
<circle cx="525.8" cy="627" r="8.4"/>
<circle cx="525.8" cy="700.3" r="8.4"/>
<path d="M514.5 627H608"/>
<path d="M514.5 700.3H608"/>
<path d="M525.8 598.4V646"/>
<path d="M525.8 680V711"/>
<path d="M525.8 602.3H570.8"/>
<path class="a" d="M525.8 602.3L534.4 600.25L534.4 604.35Z"/>
<path class="a" d="M570.8 602.3L562.2 604.35L562.2 600.25Z"/>
<text class="t" x="538.9" y="600.8" font-size="11.71" textLength="18.2" lengthAdjust="spacingAndGlyphs">29.5</text>
<circle cx="525.8" cy="663.6" r="11.4" style="stroke-dasharray:7.5 3.4"/>
<path d="M529.44 665.7A4.2 4.2 0 1 1 527.9 659.96"/>
<path d="M524 663.6H529.5"/>
<path d="M525.8 650.5V655"/>
<path d="M525.8 672.5V677"/>
<path d="M601.6 627V700.3"/>
<path class="a" d="M601.6 627L603.65 635.6L599.55 635.6Z"/>
<path class="a" d="M601.6 700.3L599.55 691.7L603.65 691.7Z"/>
<text class="t" transform="translate(600.4 668.6) rotate(-90)" font-size="11.14" textLength="11.4" lengthAdjust="spacingAndGlyphs">48</text>
<path d="M570.8 650.2H579.8Q582.3 651 582.3 654.5V673.2Q582.3 676.6 579.8 677.4H570.8M570.8 661.7H582.3M570.8 665.2H582.3"/>
<clipPath id="h11"><path d="M474.4 714.5L475.9 705.3Q478.5 702.3 483.5 701.2L495.3 698.8L508.2 699Q515 704 519.4 714.5Z"/></clipPath>
<path clip-path="url(#h11)" d="M456.5 714.5L473 698M460 714.5L476.5 698M463.5 714.5L480 698M467 714.5L483.5 698M470.5 714.5L487 698M474 714.5L490.5 698M477.5 714.5L494 698M481 714.5L497.5 698M484.5 714.5L501 698M488 714.5L504.5 698M491.5 714.5L508 698M495 714.5L511.5 698M498.5 714.5L515 698M502 714.5L518.5 698M505.5 714.5L522 698M509 714.5L525.5 698M512.5 714.5L529 698M516 714.5L532.5 698M519.5 714.5L536 698" style="stroke:#2b2b2b;stroke-width:0.85"/>
<rect x="484.1" y="696" width="21.5" height="18" fill="#fff"/>
<path d="M474.4 714.5L475.9 705.3Q478.5 702.3 483.5 701.2L495.3 698.8L508.2 699Q515 704 519.4 714.5"/>
<path d="M484.1 701.2V714.5" style="stroke-width:1.3"/>
<path d="M505.6 699V714.5" style="stroke-width:1.3"/>
<path d="M486.1 700.6V714.5"/>
<path d="M503.8 699V714.5"/>
<path d="M494.9 695.9V716.5"/>
<text class="s" y="697.6" font-size="9.14"><tspan x="477.9" textLength="4.1" lengthAdjust="spacingAndGlyphs">P</tspan><tspan x="482.2" font-size="6.29" textLength="2" lengthAdjust="spacingAndGlyphs">1</tspan></text>
<path d="M484.1 714.5V735.4"/>
<path d="M505.6 714.5V735.4"/>
<path d="M484.1 731.4H560.2"/>
<path class="a" d="M484.1 731.4L492.6 729.35L492.6 733.45Z"/>
<path class="a" d="M505.6 731.4L497.1 733.45L497.1 729.35Z"/>
<text class="t" x="515.6" y="728.7" font-size="11.86" textLength="43.9" lengthAdjust="spacingAndGlyphs">2-M14X1.5</text>
</svg>
</body></html>
